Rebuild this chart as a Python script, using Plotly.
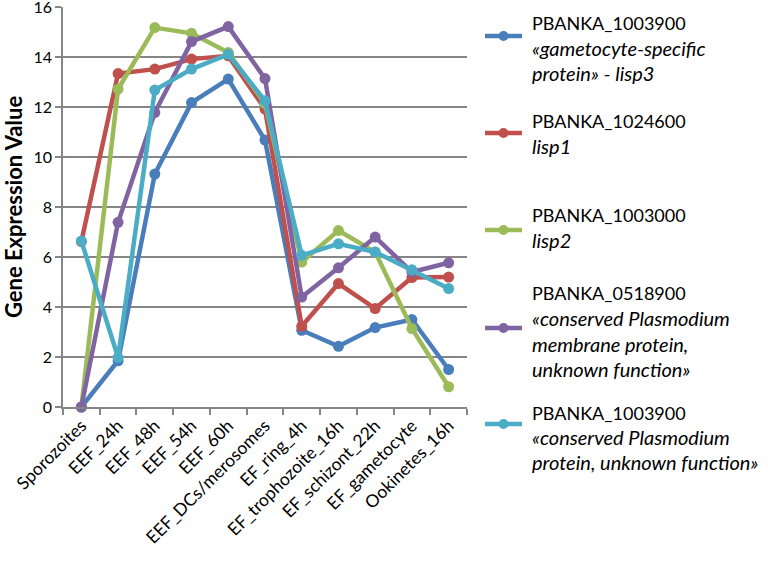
import plotly.graph_objects as go

categories = ["Sporozoites", "EEF_24h", "EEF_48h", "EEF_54h", "EEF_60h",
              "EEF_DCs/merosomes", "EF_ring_4h", "EF_trophozoite_16h",
              "EF_schizont_22h", "EF_gametocyte", "Ookinetes_16h"]

lisp3 = [0.0, 1.85, 9.32, 12.18, 13.12, 10.68, 3.07, 2.43, 3.18, 3.50, 1.50]
lisp1 = [6.62, 13.34, 13.52, 13.92, 14.05, 11.92, 3.23, 4.94, 3.94, 5.18, 5.20]
lisp2 = [0.0, 12.72, 15.18, 14.95, 14.18, 12.15, 5.80, 7.06, 6.20, 3.14, 0.81]
pb0518900 = [0.0, 7.39, 11.78, 14.62, 15.22, 13.14, 4.40, 5.57, 6.80, 5.40, 5.77]
pb1003900b = [6.64, 1.98, 12.68, 13.52, 14.11, 12.25, 6.07, 6.53, 6.20, 5.49, 4.74]

series_values = [lisp3, lisp1, lisp2, pb0518900, pb1003900b]
series_colors = ["#4A7EBB", "#C0504D", "#9BBB59", "#8064A2", "#4BACC6"]
legend_lines = [
    ["PBANKA_1003900", "<i>«gametocyte-specific</i>", "<i>protein» - lisp3</i>"],
    ["PBANKA_1024600", "<i>lisp1</i>"],
    ["PBANKA_1003000", "<i>lisp2</i>"],
    ["PBANKA_0518900", "<i>«conserved Plasmodium</i>", "<i>membrane protein,</i>",
     "<i>unknown function»</i>"],
    ["PBANKA_1003900", "<i>«conserved Plasmodium</i>", "<i>protein, unknown function»</i>"],
]
y_ticks = [0, 2, 4, 6, 8, 10, 12, 14, 16]

W, H = 768, 563
L, R, T, B = 63, 467, 7, 407
FONT = "Lato"


def px_x(p):
    return (p - L) / (R - L)


def px_y(p):
    return (B - p) / (B - T)


fig = go.Figure()
for vals, col in zip(series_values, series_colors):
    fig.add_trace(go.Scatter(
        x=categories, y=vals, mode="lines+markers",
        line=dict(color=col, width=4.5),
        marker=dict(color=col, size=11),
        showlegend=False, cliponaxis=False,
    ))

# manual legend (pixel positions converted to paper coords)
sym_y = [36, 133, 230, 328, 424]
line_y = [[23, 48, 73], [121, 146], [215, 240], [293, 318, 344, 369], [413, 437, 462]]
shapes = []
annotations = []
for i, col in enumerate(series_colors):
    yp = px_y(sym_y[i])
    shapes.append(dict(type="line", xref="paper", yref="paper",
                       x0=px_x(485), x1=px_x(522), y0=yp, y1=yp,
                       line=dict(color=col, width=4.5)))
    shapes.append(dict(type="circle", xref="paper", yref="paper",
                       x0=px_x(503.5 - 5), x1=px_x(503.5 + 5),
                       y0=px_y(sym_y[i] + 5), y1=px_y(sym_y[i] - 5),
                       fillcolor=col, line=dict(color=col, width=0)))
    for txt, ly in zip(legend_lines[i], line_y[i]):
        size = 20 if txt.startswith("<i>") else 18
        annotations.append(dict(
            xref="paper", yref="paper", x=px_x(530), y=px_y(ly),
            xanchor="left", yanchor="middle", align="left", showarrow=False,
            text=txt, font=dict(family=FONT, size=size, color="#000000"),
        ))

fig.update_layout(
    width=W, height=H,
    margin=dict(l=L, r=W - R, t=T, b=H - B, pad=0, autoexpand=False),
    paper_bgcolor="white", plot_bgcolor="white",
    font=dict(family=FONT, size=17, color="#000000"),
    showlegend=False,
    shapes=shapes,
    annotations=annotations,
    xaxis=dict(
        type="category", categoryorder="array", categoryarray=categories,
        range=[-0.5, len(categories) - 0.5], automargin=False,
        showline=True, linecolor="#868686", linewidth=1.5,
        ticks="outside", ticklen=6, tickcolor="#868686", tickwidth=1.5,
        tickson="boundaries", tickangle=-45, showgrid=False,
        tickfont=dict(family=FONT, size=17.5),
        ticklabeloverflow="allow",
    ),
    yaxis=dict(
        range=[0, 16.005], tickvals=y_ticks, automargin=False,
        showline=True, linecolor="#868686", linewidth=1.5,
        ticks="outside", ticklen=6, tickcolor="#868686", tickwidth=1.5,
        showgrid=True, gridcolor="#868686", gridwidth=1.5,
        zeroline=False, ticklabeloverflow="allow",
        tickfont=dict(family=FONT, size=16),
        title=dict(text="<b>Gene Expression Value</b>",
                   font=dict(family=FONT, size=22), standoff=10),
    ),
)

fig.write_html("out.html", config={"displayModeBar": False},
               post_script="document.body.style.margin='0';")
